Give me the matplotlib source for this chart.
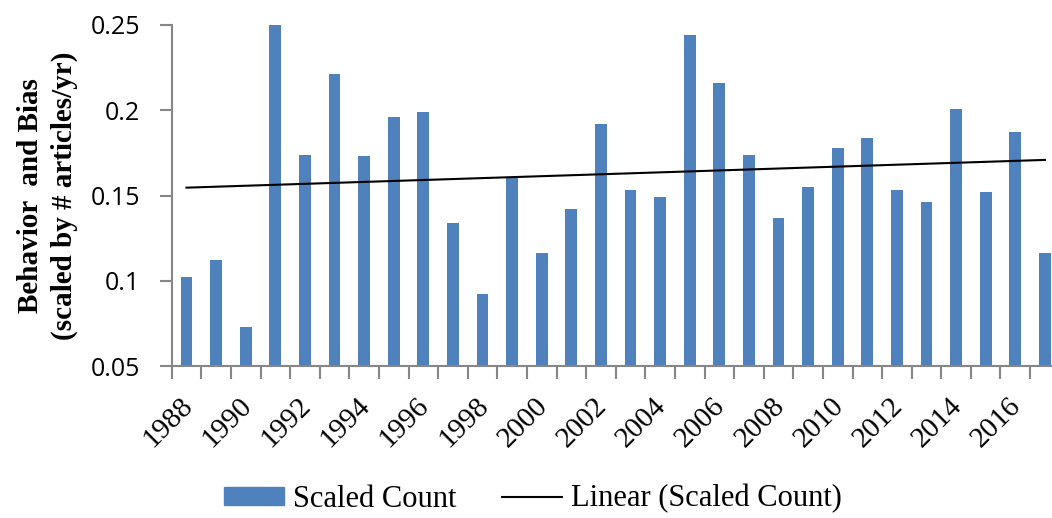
import matplotlib.pyplot as plt
import matplotlib.transforms as mtransforms
import numpy as np
from matplotlib.patches import Patch
from matplotlib.lines import Line2D

# Данные
years = list(range(1988, 2018))
scaled_count = [0.102, 0.112, 0.073, 0.250, 0.174, 0.221, 0.173, 0.196, 0.199, 0.134,
                0.092, 0.161, 0.116, 0.142, 0.192, 0.153, 0.149, 0.244, 0.216, 0.174,
                0.137, 0.155, 0.178, 0.184, 0.153, 0.146, 0.201, 0.152, 0.187, 0.116]
tick_years = [str(y) if y % 2 == 0 else "" for y in years]

bar_color = "#4F81BD"
axis_color = "#868686"

fig = plt.figure(figsize=(10.52, 5.18), dpi=100)
ax = fig.add_axes([171.7 / 1052, 1 - 366 / 518, 888 / 1052, 341 / 518])

x = np.arange(len(years))
ax.bar(x, scaled_count, width=0.4, color=bar_color, zorder=2)

# Линейный тренд
k, b = np.polyfit(x, scaled_count, 1)
ax.plot(x, k * x + b, color="black", linewidth=1.5, zorder=3)

ax.set_ylim(0.05, 0.25)
ax.set_xlim(-0.5, len(years) - 0.5)
ax.set_yticks([0.05, 0.1, 0.15, 0.2, 0.25])
ax.set_yticklabels(["0.05", "0.1", "0.15", "0.2", "0.25"], family="Open Sans", fontsize=18)

ax.set_xticks(x)
ax.set_xticklabels(tick_years, rotation=45, ha="right",
                   family="Liberation Serif", fontsize=21)
ax.tick_params(axis="x", length=0, pad=19)
# сдвиг подписей вправо
shift = mtransforms.ScaledTranslation(8 / 72, 0, fig.dpi_scale_trans)
for lbl in ax.get_xticklabels():
    lbl.set_transform(lbl.get_transform() + shift)
ax.set_xticks(np.arange(-0.5, len(years)), minor=True)
ax.tick_params(axis="x", which="minor", length=9, color=axis_color, width=1.5, direction="out")
ax.tick_params(axis="y", length=9, color=axis_color, width=1.5, direction="out", pad=14)

for s in ["top", "right"]:
    ax.spines[s].set_visible(False)
for s in ["left", "bottom"]:
    ax.spines[s].set_color(axis_color)
    ax.spines[s].set_linewidth(1.5)

ax.set_ylabel("Behavior  and Bias\n(scaled by # articles/yr)", family="Liberation Serif",
              fontweight="bold", fontsize=21, linespacing=1.3)
ax.yaxis.set_label_coords(-0.106, 0.5)

handles = [Patch(color=bar_color), Line2D([0], [0], color="black", linewidth=1.5)]
fig.legend(handles, ["Scaled Count", "Linear (Scaled Count)"], loc="center",
           bbox_to_anchor=(533 / 1052, 1 - 499 / 518), ncol=2, frameon=False,
           prop={"family": "Liberation Serif", "size": 22}, handlelength=1.95,
           handleheight=0.55, columnspacing=1.5, handletextpad=0.3)

fig.savefig("out.png", dpi=100)
